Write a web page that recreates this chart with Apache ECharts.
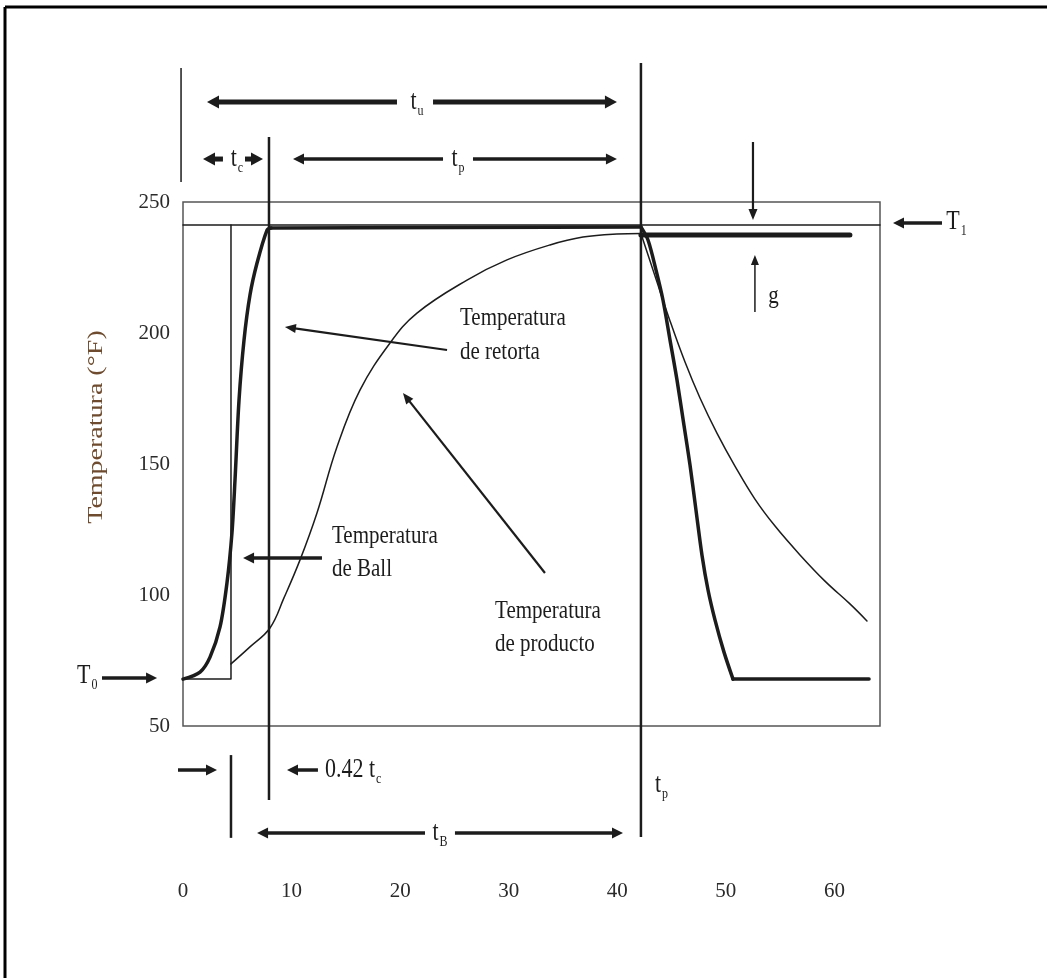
<!DOCTYPE html>
<html>
<head>
<meta charset="utf-8">
<script src="https://cdn.jsdelivr.net/npm/echarts/dist/echarts.min.js"></script>
<style>
html,body{margin:0;padding:0;background:#fff;}
#chart{width:1047px;height:978px;}
</style>
</head>
<body>
<div id="chart"></div>
<script>
// ---------------- data (time in min, temperature in °F) ----------------
const xTickLabels = [0, 10, 20, 30, 40, 50, 60];
const yTickLabels = [50, 100, 150, 200, 250];
const timeMax = 64.2;

// Temperatura de retorta (thick curve): heating, holding, cooling, final hold
const retortHeatTime = [0, 1.57, 2.49, 3.41, 4.05, 4.51, 4.79, 5.16, 5.62, 6.17, 6.82, 7.74, 8.11];
const retortHeatTemp = [67.9, 70.6, 76.3, 87.8, 104.6, 123.7, 143.9, 174.4, 197.3, 214.5, 226.7, 239.3, 240.1];
const retortCoolTime = [42.18, 42.83, 43.57, 44.21, 44.86, 45.50, 46.14, 46.70, 47.25, 47.80, 48.36, 49.00, 49.83, 50.66];
const retortCoolTemp = [240.5, 235.5, 224.0, 212.6, 197.3, 182.1, 164.9, 149.6, 132.4, 115.3, 101.9, 90.5, 78.2, 67.9];
const retortEndTime = 63.19;

// Temperatura de producto (thin curve)
const productHeatTime = [4.42, 6.17, 8.01, 9.30, 10.78, 12.34, 14.18, 16.30, 19.07, 21.55, 26.16, 29.84, 33.80, 36.84, 39.97, 42.18];
const productHeatTemp = [73.7, 80.2, 87.4, 98.9, 113.4, 131.3, 156.5, 178.2, 196.2, 207.6, 220.2, 227.9, 233.6, 236.6, 237.8, 238.0];
const productCoolTime = [42.18, 43.47, 44.86, 46.24, 47.62, 49.18, 50.84, 52.68, 54.53, 56.83, 59.13, 61.43, 63.00];
const productCoolTemp = [238.0, 221.8, 204.6, 188.9, 175.2, 161.8, 149.2, 136.6, 126.3, 115.3, 105.3, 96.6, 90.1];

// Temperatura de Ball (step at 0.42 tc)
const ballTime = [0, 4.42, 4.42];
const ballTemp = [67.9, 67.9, 241.2];

// T1 reference line and g level
const t1Time = [0, 64.2];
const t1Temp = [241.2, 241.2];
const gTime = [42.18, 61.43];
const gTemp = [237.4, 237.4];

// dimension / guide lines: [time1, temp1, time2, temp2]
const guideThin = [[-0.18, 301.1, -0.18, 257.6]];
const guideBold = [[7.92, 274.8, 7.92, 21.8], [42.18, 303.1, 42.18, 7.6], [4.42, 38.9, 4.42, 7.3]];

// arrows: [tailTime, tailTemp, headTime, headTemp]
const arrowsHeavy = [
  [19.71, 288.2, 2.21, 288.2], [23.03, 288.2, 39.97, 288.2],   // t_u
  [3.68, 266.4, 1.84, 266.4], [5.71, 266.4, 7.37, 266.4]       // t_c
];
const arrowsMedium = [
  [23.95, 266.4, 10.13, 266.4], [26.71, 266.4, 39.97, 266.4],  // t_p (top)
  [69.91, 242.0, 65.40, 242.0],                                // T1
  [-7.46, 68.3, -2.39, 68.3],                                  // T0
  [12.80, 114.1, 5.53, 114.1],                                 // Ball
  [-0.46, 33.2, 3.13, 33.2], [12.43, 33.2, 9.58, 33.2],        // 0.42 tc
  [22.29, 9.2, 6.82, 9.2], [25.05, 9.2, 40.53, 9.2]            // t_B
];
const arrowsThin = [
  [24.32, 193.5, 9.39, 202.3],     // retorta
  [33.34, 108.4, 20.26, 177.1],    // producto
  [52.50, 272.9, 52.50, 243.1]     // g (down)
];
const arrowsHair = [
  [52.68, 208.0, 52.68, 229.8]     // g (up)
];

// annotation texts
const noteText = [
  '{m|t}{s|u}', '{m|t}{s|c}', '{m|t}{s|p}', '{m|T}{s|1}', 'g', '{m|T}{s|0}',
  'Temperatura\nde retorta', 'Temperatura\nde Ball', 'Temperatura\nde producto',
  '{m|0.42 t}{s|c}', '{m|t}{s|B}', '{m|t}{s|p}'
];
const noteTime = [21.55, 4.97, 25.33, 70.3, 53.9, -9.76, 25.51, 13.72, 28.74, 13.08, 23.67, 43.47];
const noteTemp = [288.2, 266.4, 266.4, 242.4, 214.1, 69.1, 199.2, 116.0, 87.4, 33.2, 9.2, 27.5];
const noteAlign = ['center', 'center', 'center', 'left', 'left', 'left', 'left', 'left', 'left', 'left', 'center', 'left'];

const yTitle = 'Temperatura (°F)';

// ---------------- chart ----------------
const FONT = "'Liberation Serif', 'DejaVu Serif', serif";
const INK = '#1c1c1c';
const zip = (xs, ys) => xs.map((x, i) => [x, ys[i]]);
const last = a => a[a.length - 1];

function segRenderer(width, headL, headW, color) {
  return function (params, api) {
    const p1 = api.coord([api.value(0), api.value(1)]);
    const p2 = api.coord([api.value(2), api.value(3)]);
    const dx = p2[0] - p1[0], dy = p2[1] - p1[1];
    const len = Math.hypot(dx, dy) || 1;
    const ux = dx / len, uy = dy / len;
    const children = [];
    if (headL > 0) {
      const hl = Math.min(headL, len * 0.8);
      const bx = p2[0] - ux * hl, by = p2[1] - uy * hl;
      children.push({ type: 'line', shape: { x1: p1[0], y1: p1[1], x2: bx + ux, y2: by + uy },
        style: { stroke: color, lineWidth: width, lineCap: 'butt' } });
      children.push({ type: 'polygon', shape: { points: [[p2[0], p2[1]],
        [bx - uy * headW / 2, by + ux * headW / 2], [bx + uy * headW / 2, by - ux * headW / 2]] },
        style: { fill: color } });
    } else {
      children.push({ type: 'line', shape: { x1: p1[0], y1: p1[1], x2: p2[0], y2: p2[1] },
        style: { stroke: color, lineWidth: width, lineCap: 'butt' } });
    }
    return { type: 'group', children: children };
  };
}

function segSeries(data, width, headL, headW) {
  return { type: 'custom', data: data, encode: { x: [0, 2], y: [1, 3] }, clip: false, silent: true, z: 6,
    renderItem: segRenderer(width, headL, headW, INK) };
}

function lineSeries(name, data, width, smooth, z) {
  return { name: name, type: 'line', data: data, symbol: 'none', silent: true, z: z || 3,
    smooth: smooth, lineStyle: { color: INK, width: width, join: 'round', cap: 'round' }, clip: false };
}

const noteSeries = {
  type: 'custom', clip: false, silent: true, z: 7,
  data: zip(noteTime, noteTemp),
  encode: { x: 0, y: 1 },
  renderItem: function (params, api) {
    const p = api.coord([api.value(0), api.value(1)]);
    const i = params.dataIndex;
    return {
      type: 'text', x: p[0], y: p[1], scaleY: 1.2,
      style: {
        text: noteText[i], fill: INK, fontFamily: FONT, fontSize: 21, lineHeight: 28,
        align: noteAlign[i], verticalAlign: 'middle',
        rich: {
          m: { fontFamily: FONT, fontSize: 22, fill: INK },
          s: { fontFamily: FONT, fontSize: 12, fill: INK, padding: [16, 0, 0, 1] }
        }
      }
    };
  }
};

const chart = echarts.init(document.getElementById('chart'), null, { renderer: 'canvas' });
chart.setOption({
  animation: false,
  backgroundColor: '#ffffff',
  grid: { left: 183, top: 202, width: 697, height: 524, show: true, borderColor: '#555', borderWidth: 1.5,
          backgroundColor: 'transparent' },
  xAxis: {
    type: 'value', min: xTickLabels[0], max: timeMax, interval: 10,
    axisLine: { show: false }, axisTick: { show: false }, splitLine: { show: false },
    axisLabel: { margin: 155, fontFamily: FONT, fontSize: 21, color: '#2a2a2a',
      formatter: v => (xTickLabels.indexOf(v) >= 0 ? String(v) : '') }
  },
  yAxis: {
    type: 'value', min: yTickLabels[0], max: last(yTickLabels), interval: 50,
    axisLine: { show: false }, axisTick: { show: false }, splitLine: { show: false },
    axisLabel: { margin: 13, fontFamily: FONT, fontSize: 21, color: '#2a2a2a',
      formatter: v => (yTickLabels.indexOf(v) >= 0 ? String(v) : '') }
  },
  graphic: [
    { type: 'line', shape: { x1: 5, y1: 7, x2: 1047, y2: 7 }, style: { stroke: '#000', lineWidth: 3 }, silent: true },
    { type: 'line', shape: { x1: 5, y1: 7, x2: 5, y2: 978 }, style: { stroke: '#000', lineWidth: 3 }, silent: true },
    { type: 'text', x: 97, y: 427, rotation: Math.PI / 2, scaleX: 1.4, silent: true,
      style: { text: yTitle, fontFamily: FONT, fontSize: 20, fill: '#6e4b2e', align: 'center', verticalAlign: 'middle' } }
  ],
  series: [
    lineSeries('T1', zip(t1Time, t1Temp), 1.5, false, 2),
    lineSeries('Temperatura de Ball', zip(ballTime, ballTemp), 1.5, false, 2),
    lineSeries('Temperatura de producto', zip(productHeatTime, productHeatTemp), 1.5, 0.4, 3),
    lineSeries('Temperatura de producto', zip(productCoolTime, productCoolTemp), 1.5, 0.4, 3),
    lineSeries('g', zip(gTime, gTemp), 5, false, 4),
    lineSeries('Temperatura de retorta', zip(retortHeatTime, retortHeatTemp), 3.5, 0.3, 5),
    lineSeries('Temperatura de retorta',
      [[last(retortHeatTime), last(retortHeatTemp)], [retortCoolTime[0], retortCoolTemp[0]]], 3.5, false, 5),
    lineSeries('Temperatura de retorta', zip(retortCoolTime, retortCoolTemp), 3.5, 0.3, 5),
    lineSeries('Temperatura de retorta',
      [[last(retortCoolTime), last(retortCoolTemp)], [retortEndTime, last(retortCoolTemp)]], 3.5, false, 5),
    segSeries(guideThin, 1.5, 0, 0),
    segSeries(guideBold, 2.5, 0, 0),
    segSeries(arrowsHeavy, 5, 12, 13),
    segSeries(arrowsMedium, 3.5, 11, 11),
    segSeries(arrowsThin, 2.2, 11, 9),
    segSeries(arrowsHair, 1.5, 10, 8),
    noteSeries
  ]
});
</script>
</body>
</html>
